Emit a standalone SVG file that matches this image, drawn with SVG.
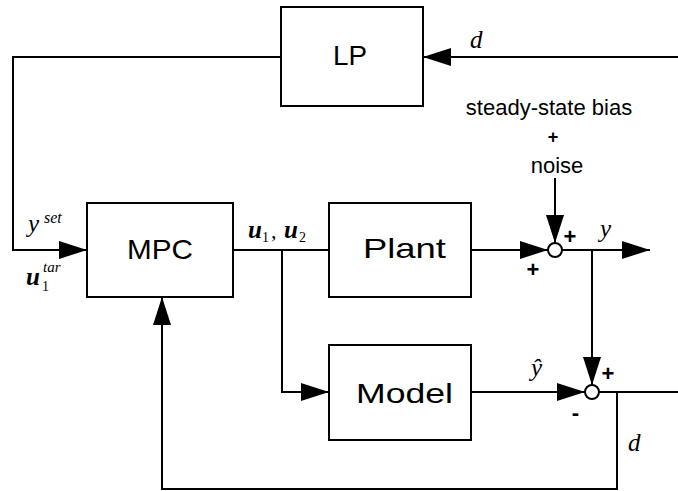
<svg xmlns="http://www.w3.org/2000/svg" width="678" height="491" viewBox="0 0 678 491">
<style>
.box{fill:#fff;stroke:#000;stroke-width:2}
.lbl{font-family:"Liberation Sans",Arial,sans-serif;font-size:28px;text-anchor:middle;fill:#000}
.wire{fill:none;stroke:#000;stroke-width:2}
.arr{fill:none;stroke:#000;stroke-width:2;marker-end:url(#ah)}
.sum{fill:#fff;stroke:#000;stroke-width:2}
.m{font-family:"Liberation Serif","Times New Roman",serif;font-style:italic;fill:#000}
.n{font-family:"Liberation Serif","Times New Roman",serif;font-style:normal;fill:#000}
.s{font-family:"Liberation Sans",Arial,sans-serif;fill:#000}
.sign{font-family:"Liberation Sans",Arial,sans-serif;font-weight:bold;font-size:22px;text-anchor:middle;fill:#000}
</style>
<defs>
<marker id="ah" markerUnits="userSpaceOnUse" viewBox="0 0 28 18" markerWidth="28" markerHeight="18" refX="28" refY="9" orient="auto">
<path d="M0,0 L28,9 L0,18 Z" fill="#000"/>
</marker>
</defs>
<g id="connectors">
<path class="arr" d="M281,57 H13 V250 H87"/>
<path class="arr" d="M678,57 H423"/>
<path class="wire" d="M233,250 H329"/>
<path class="arr" d="M282,250 V392 H329"/>
<path class="arr" d="M471,250 H548"/>
<path class="arr" d="M555,178 V243"/>
<path class="arr" d="M562,250 H650"/>
<path class="arr" d="M592,250 V385"/>
<path class="arr" d="M471,392 H585"/>
<path class="wire" d="M599,392 H678"/>
<path class="arr" d="M617,392 V489 H162 V297"/>
</g>
<g id="LP">
<rect class="box" x="281" y="7" width="142" height="99"/>
<text class="lbl" x="350" y="65" textLength="34" lengthAdjust="spacingAndGlyphs">LP</text>
</g>
<g id="MPC">
<rect class="box" x="87" y="203" width="146" height="94"/>
<text class="lbl" x="160" y="259" textLength="66" lengthAdjust="spacingAndGlyphs">MPC</text>
</g>
<g id="Plant">
<rect class="box" x="329" y="203" width="142" height="94"/>
<text class="lbl" x="404.5" y="258" textLength="83" lengthAdjust="spacingAndGlyphs">Plant</text>
</g>
<g id="Model">
<rect class="box" x="329" y="345" width="142" height="95"/>
<text class="lbl" x="404.5" y="403" textLength="97" lengthAdjust="spacingAndGlyphs">Model</text>
</g>
<g id="sum1">
<circle class="sum" cx="555" cy="250" r="7"/>
<text class="sign" x="570" y="244">+</text>
<text class="sign" x="533" y="277">+</text>
</g>
<g id="sum2">
<circle class="sum" cx="592" cy="392" r="7"/>
<text class="sign" x="608" y="381">+</text>
<text class="sign" x="575.5" y="420">-</text>
</g>
<g id="labels">
<text class="m" x="28" y="232" font-size="25">y</text>
<text class="m" x="44" y="223" font-size="16">set</text>
<text class="m" x="26" y="285" font-size="25" font-weight="bold">u</text>
<text class="n" x="42" y="291" font-size="14">1</text>
<text class="m" x="43" y="272" font-size="15">tar</text>
<text class="m" x="248" y="238" font-size="25" font-weight="bold">u</text>
<text class="n" x="262" y="242" font-size="14">1</text>
<text class="n" x="271" y="238" font-size="22">,</text>
<text class="m" x="284" y="238" font-size="25" font-weight="bold">u</text>
<text class="n" x="299" y="242" font-size="14">2</text>
<text class="m" x="470" y="48" font-size="25">d</text>
<text class="m" x="628" y="451" font-size="25">d</text>
<text class="m" x="600" y="237" font-size="25">y</text>
<text class="m" x="531" y="376" font-size="25">ŷ</text>
<text class="s" x="549" y="115" font-size="22" text-anchor="middle">steady-state bias</text>
<text class="s" x="553" y="143" font-size="18" text-anchor="middle" font-weight="bold">+</text>
<text class="s" x="557" y="173" font-size="22" text-anchor="middle">noise</text>
</g>
</svg>
